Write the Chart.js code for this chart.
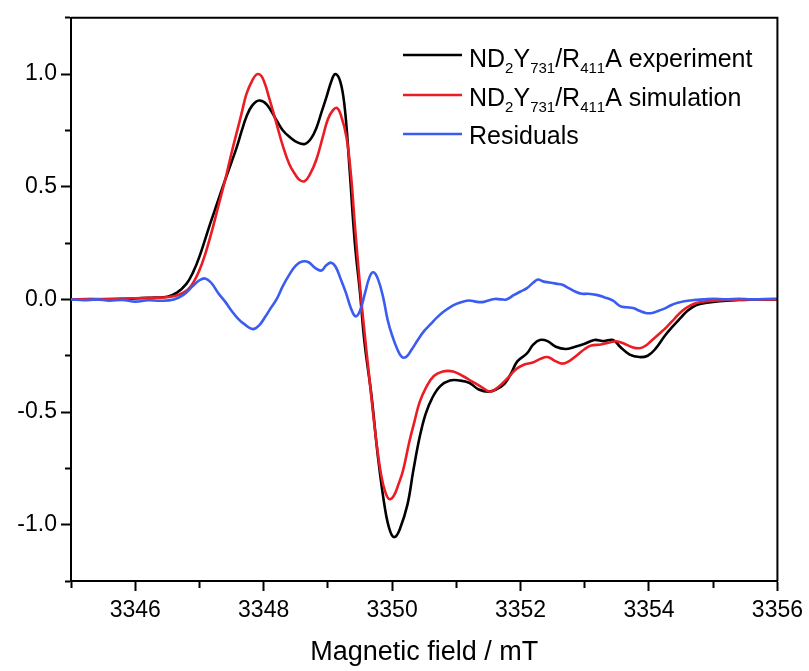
<!DOCTYPE html>
<html>
<head>
<meta charset="utf-8">
<script src="https://cdn.jsdelivr.net/npm/chart.js@4.4.1/dist/chart.umd.min.js"></script>
<style>
    html, body { margin: 0; padding: 0; background: #fff; }
    #wrap { width: 809px; height: 671px; }
</style>
</head>
<body>
<div id="wrap"><canvas id="eprChart"></canvas></div>
<script>
(function () {
    "use strict";

    // series labels (unicode subscripts are drawn smaller by the legend plugin)
    const seriesLabels = [
        "ND₂Y₇₃₁/R₄₁₁A experiment",
        "ND₂Y₇₃₁/R₄₁₁A simulation",
        "Residuals"
    ];

    // experiment
    const expField = [
        3345.0, 3345.3, 3345.6, 3345.9, 3346.1, 3346.3, 3346.5, 3346.65, 3346.8, 3346.9,
        3347.0, 3347.16, 3347.28, 3347.4, 3347.5, 3347.58, 3347.66, 3347.73, 3347.82, 3347.93,
        3348.05, 3348.2, 3348.3, 3348.41, 3348.52, 3348.64, 3348.74, 3348.82, 3348.9, 3348.98,
        3349.05, 3349.11, 3349.17, 3349.23, 3349.28, 3349.34, 3349.42, 3349.5, 3349.57, 3349.68,
        3349.78, 3349.89, 3349.97, 3350.04, 3350.12, 3350.24, 3350.33, 3350.43, 3350.52, 3350.62,
        3350.75, 3350.9, 3351.05, 3351.2, 3351.35, 3351.5, 3351.62, 3351.75, 3351.85, 3351.95,
        3352.1, 3352.2, 3352.3, 3352.42, 3352.55, 3352.7, 3352.85, 3353.0, 3353.15, 3353.3,
        3353.44, 3353.55, 3353.7, 3353.85, 3353.98, 3354.1, 3354.25, 3354.37, 3354.5, 3354.6,
        3354.74, 3354.9, 3355.1, 3355.4, 3355.7, 3356.0
    ];
    const expSignal = [
        0.0, 0.002, 0.0, 0.003, 0.006, 0.008, 0.012, 0.03, 0.07, 0.12,
        0.19, 0.33, 0.43, 0.53, 0.61, 0.675, 0.75, 0.81, 0.86, 0.883,
        0.865, 0.795, 0.75, 0.72, 0.698, 0.69, 0.715, 0.76, 0.83, 0.9,
        0.965, 1.0, 0.985, 0.92, 0.8, 0.57, 0.25, 0.03, -0.19, -0.43,
        -0.70, -0.93, -1.03, -1.055, -1.02, -0.91, -0.76, -0.61, -0.51, -0.44,
        -0.385, -0.36, -0.36, -0.37, -0.40, -0.41, -0.40, -0.375, -0.33, -0.275,
        -0.24, -0.2, -0.18, -0.185, -0.21, -0.22, -0.21, -0.197, -0.18, -0.185,
        -0.18, -0.21, -0.245, -0.256, -0.25, -0.22, -0.16, -0.12, -0.08, -0.05,
        -0.025, -0.015, -0.008, -0.003, 0.0, 0.0
    ];

    // simulation
    const simField = [
        3345.0, 3345.5, 3346.0, 3346.4, 3346.6, 3346.75, 3346.87, 3347.0, 3347.1, 3347.2,
        3347.3, 3347.4, 3347.5, 3347.58, 3347.66, 3347.73, 3347.82, 3347.9, 3347.98, 3348.1,
        3348.2, 3348.3, 3348.4, 3348.49, 3348.56, 3348.64, 3348.72, 3348.82, 3348.92, 3349.0,
        3349.08, 3349.14, 3349.2, 3349.29, 3349.36, 3349.42, 3349.5, 3349.55, 3349.65, 3349.75,
        3349.83, 3349.9, 3349.96, 3350.03, 3350.1, 3350.17, 3350.27, 3350.35, 3350.43, 3350.53,
        3350.65, 3350.79, 3350.95, 3351.1, 3351.25, 3351.4, 3351.52, 3351.65, 3351.78, 3351.93,
        3352.05, 3352.19, 3352.3, 3352.42, 3352.55, 3352.65, 3352.75, 3352.87, 3353.0, 3353.1,
        3353.25, 3353.4, 3353.49, 3353.6, 3353.72, 3353.85, 3353.95, 3354.05, 3354.17, 3354.27,
        3354.4, 3354.52, 3354.64, 3354.74, 3354.9, 3355.2, 3355.6, 3356.0
    ];
    const simSignal = [
        0.0, 0.002, 0.005, 0.008, 0.014, 0.03, 0.06, 0.13, 0.21, 0.31,
        0.42, 0.53, 0.65, 0.74, 0.83, 0.91, 0.97, 1.0, 0.985, 0.88,
        0.78, 0.68, 0.6, 0.555, 0.53, 0.525, 0.555, 0.62, 0.72, 0.8,
        0.84, 0.85, 0.82, 0.72, 0.55, 0.33, 0.06, -0.09, -0.36, -0.62,
        -0.78, -0.86, -0.887, -0.87, -0.82, -0.76, -0.63, -0.54, -0.455, -0.39,
        -0.34, -0.32, -0.32, -0.34, -0.365, -0.39, -0.41, -0.39, -0.355, -0.31,
        -0.29, -0.28, -0.265, -0.256, -0.275, -0.285, -0.275, -0.25, -0.22, -0.205,
        -0.2, -0.19, -0.186, -0.195, -0.21, -0.217, -0.205, -0.18, -0.15, -0.124,
        -0.085, -0.05, -0.028, -0.016, -0.008, -0.003, 0.0, 0.0
    ];

    // residuals
    const resField = [
        3345.0, 3345.2, 3345.4, 3345.6, 3345.8, 3346.0, 3346.2, 3346.4, 3346.6, 3346.75,
        3346.9, 3347.0, 3347.09, 3347.18, 3347.3, 3347.4, 3347.5, 3347.6, 3347.7, 3347.83,
        3347.93, 3348.03, 3348.1, 3348.2, 3348.3, 3348.4, 3348.5, 3348.6, 3348.7, 3348.8,
        3348.9, 3348.97, 3349.05, 3349.12, 3349.2, 3349.28, 3349.36, 3349.43, 3349.5, 3349.58,
        3349.65, 3349.71, 3349.78, 3349.86, 3349.93, 3350.0, 3350.08, 3350.15, 3350.22, 3350.3,
        3350.4, 3350.5, 3350.6, 3350.7, 3350.8, 3350.9, 3351.0, 3351.1, 3351.2, 3351.3,
        3351.4, 3351.5, 3351.6, 3351.7, 3351.78, 3351.9, 3352.0, 3352.1, 3352.2, 3352.27,
        3352.35, 3352.45, 3352.55, 3352.65, 3352.75, 3352.85, 3352.95, 3353.05, 3353.18, 3353.3,
        3353.44, 3353.55, 3353.65, 3353.75, 3353.85, 3353.95, 3354.05, 3354.15, 3354.25, 3354.35,
        3354.45, 3354.55, 3354.7, 3354.85, 3355.0, 3355.2, 3355.4, 3355.6, 3355.8, 3356.0
    ];
    const resSignal = [
        0.0, -0.004, 0.0, -0.006, -0.002, -0.01, -0.004, -0.006, 0.0, 0.02,
        0.06, 0.085, 0.093, 0.075, 0.025, -0.01, -0.05, -0.085, -0.11, -0.132,
        -0.115, -0.075, -0.043, 0.0, 0.06, 0.11, 0.15, 0.168, 0.165, 0.14,
        0.128, 0.15, 0.163, 0.145, 0.09, 0.03, -0.04, -0.075, -0.05, 0.03,
        0.1, 0.12, 0.09, 0.01, -0.09, -0.16, -0.22, -0.255, -0.255, -0.225,
        -0.18, -0.14, -0.11, -0.08, -0.055, -0.035, -0.02, -0.01, -0.005, -0.01,
        -0.012, -0.005, 0.002, 0.0, 0.0, 0.02, 0.035, 0.05, 0.075, 0.088,
        0.08, 0.075, 0.07, 0.065, 0.05, 0.035, 0.025, 0.025, 0.02, 0.01,
        -0.005, -0.03, -0.035, -0.038, -0.05, -0.06, -0.06, -0.05, -0.04, -0.025,
        -0.015, -0.008, -0.003, 0.0, 0.003, 0.0, 0.003, 0.0, 0.002, 0.003
    ];

    const seriesColors = ["#000000", "#ec1c24", "#3a5cf0"];
    const fontFamily = "'Liberation Sans', Arial, Helvetica, sans-serif";
    const subDigits = "₀₁₂₃₄₅₆₇₈₉";

    function toPoints(xs, ys) {
        return xs.map((x, i) => ({ x: x, y: ys[i] }));
    }

    function isMajor(value, step) {
        const q = value / step;
        return Math.abs(q - Math.round(q)) < 1e-6;
    }

    // legend with subscripts, drawn in the upper right of the plot
    const subscriptLegend = {
        id: "subscriptLegend",
        afterDraw(chart) {
            const { ctx } = chart;
            const lineX0 = 403, lineX1 = 462, textX = 469;
            const rows = [{ line: 55, base: 66.5 }, { line: 95, base: 106 }, { line: 134, base: 143.5 }];
            ctx.save();
            chart.data.datasets.forEach((ds, i) => {
                const row = rows[i];
                ctx.strokeStyle = ds.borderColor;
                ctx.lineWidth = 2.5;
                ctx.beginPath();
                ctx.moveTo(lineX0, row.line);
                ctx.lineTo(lineX1, row.line);
                ctx.stroke();

                ctx.fillStyle = "#000";
                ctx.textBaseline = "alphabetic";
                ctx.textAlign = "left";
                let x = textX;
                for (const ch of ds.label) {
                    const k = subDigits.indexOf(ch);
                    if (k >= 0) {
                        ctx.font = "15px " + fontFamily;
                        ctx.fillText(String(k), x, row.base + 6);
                        x += ctx.measureText(String(k)).width;
                    } else {
                        ctx.font = "25px " + fontFamily;
                        ctx.fillText(ch, x, row.base);
                        x += ctx.measureText(ch).width;
                    }
                }
            });
            ctx.restore();
        }
    };

    // closes the box on the top and right
    const frameBox = {
        id: "frameBox",
        afterDraw(chart) {
            const { ctx, chartArea } = chart;
            ctx.save();
            ctx.strokeStyle = "#000";
            ctx.lineWidth = 2;
            ctx.beginPath();
            ctx.moveTo(chartArea.left, chartArea.top);
            ctx.lineTo(chartArea.right, chartArea.top);
            ctx.lineTo(chartArea.right, chartArea.bottom);
            ctx.stroke();
            ctx.restore();
        }
    };

    const datasets = [
        { label: seriesLabels[0], data: toPoints(expField, expSignal), order: 3 },
        { label: seriesLabels[1], data: toPoints(simField, simSignal), order: 2 },
        { label: seriesLabels[2], data: toPoints(resField, resSignal), order: 1 }
    ].map((ds, i) => ({
        ...ds,
        borderColor: seriesColors[i],
        backgroundColor: seriesColors[i],
        borderWidth: 2.6,
        pointRadius: 0,
        tension: 0.4,
        fill: false
    }));

    new Chart(document.getElementById("eprChart"), {
        type: "line",
        data: { datasets: datasets },
        plugins: [frameBox, subscriptLegend],
        options: {
            responsive: true,
            maintainAspectRatio: false,
            animation: false,
            layout: { padding: { top: 13, right: 31, left: 0, bottom: 0 } },
            plugins: {
                legend: { display: false },
                tooltip: { enabled: false }
            },
            scales: {
                x: {
                    type: "linear",
                    min: 3345,
                    max: 3356,
                    afterFit(scale) { scale.height = 90; },
                    border: { display: true, color: "#000", width: 2 },
                    grid: {
                        drawOnChartArea: false,
                        tickLength: 10,
                        tickWidth: 2,
                        tickColor: "#000",
                        tickBorderDash: (c) => (c.tick && isMajor(c.tick.value, 2)) ? [] : [6, 100]
                    },
                    ticks: {
                        stepSize: 1,
                        autoSkip: false,
                        maxRotation: 0,
                        padding: 6,
                        color: "#000",
                        font: { family: fontFamily, size: 23 },
                        callback: (v) => isMajor(v, 2) ? String(v) : ""
                    },
                    title: {
                        display: true,
                        text: "Magnetic field / mT",
                        color: "#000",
                        font: { family: fontFamily, size: 27 },
                        padding: { top: 0, bottom: 2 }
                    }
                },
                y: {
                    min: -1.25,
                    max: 1.25,
                    afterFit(scale) { scale.width = 71; },
                    border: { display: true, color: "#000", width: 2 },
                    grid: {
                        drawOnChartArea: false,
                        tickLength: 10,
                        tickWidth: 2,
                        tickColor: "#000",
                        tickBorderDash: (c) => (c.tick && isMajor(c.tick.value, 0.5)) ? [] : [0, 4, 6, 100]
                    },
                    ticks: {
                        stepSize: 0.25,
                        autoSkip: false,
                        padding: 4,
                        color: "#000",
                        font: { family: fontFamily, size: 23 },
                        callback: (v) => isMajor(v, 0.5) ? v.toFixed(1) : ""
                    }
                }
            }
        }
    });
}());
</script>
</body>
</html>
